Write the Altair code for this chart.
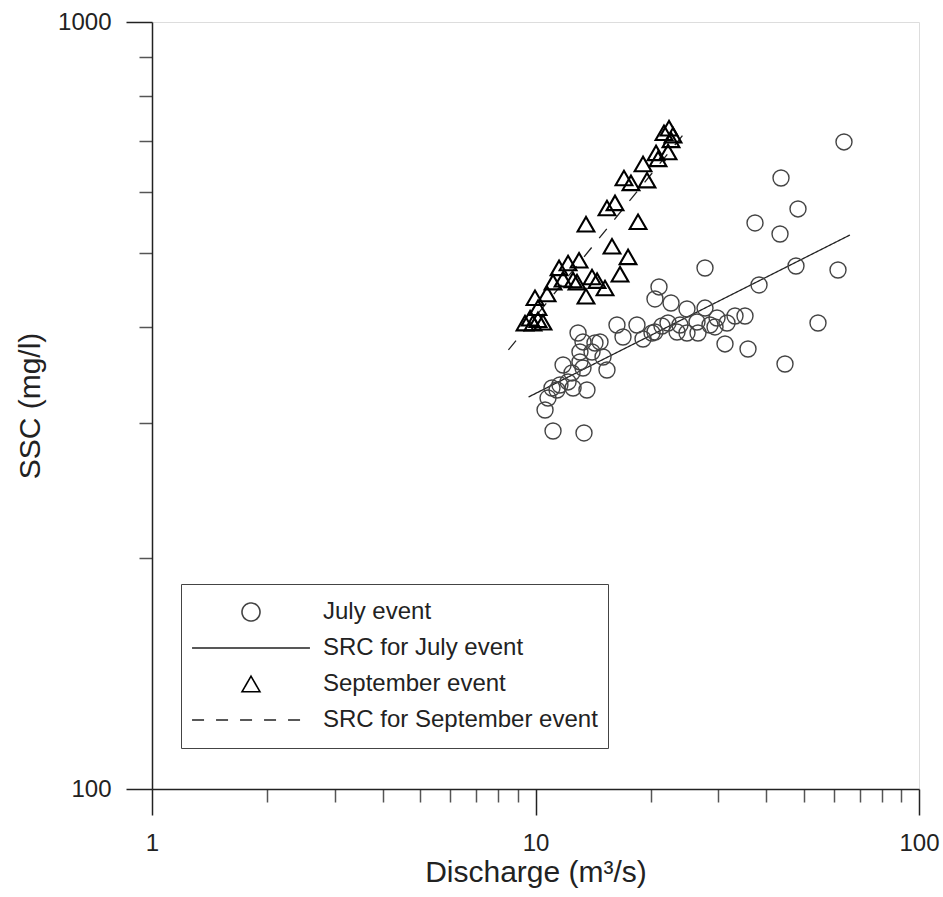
import altair as alt
import pandas as pd

# ---------------- data ----------------
july_q = [11.11, 13.38, 10.59, 10.78, 11.04, 11.38, 11.58, 12.16, 12.53, 13.62,
          11.80, 12.45, 13.30, 13.06, 13.06, 14.04, 15.00, 15.36, 13.30, 12.91,
          14.29, 14.73, 16.31, 16.91, 18.39, 19.07, 20.13, 20.49, 21.37, 22.16,
          23.39, 23.81, 24.83, 26.37, 26.53, 28.51, 29.38, 29.74, 31.58, 33.13,
          35.18, 31.20, 35.82, 44.73, 20.99, 20.49, 22.56, 24.83, 27.67, 27.67,
          38.27, 47.78, 61.49, 37.36, 43.41, 43.67, 48.36, 63.74, 54.53]
july_ssc = [292.9, 291.2, 312.0, 323.4, 333.3, 331.3, 336.3, 339.4, 333.3, 331.3,
            357.1, 348.7, 353.9, 360.4, 371.3, 371.3, 365.8, 351.8, 382.7, 393.1,
            381.5, 382.7, 402.7, 388.4, 402.7, 386.1, 393.1, 394.3, 401.5, 405.1,
            394.3, 402.7, 393.1, 406.3, 393.1, 402.7, 400.3, 411.2, 405.1, 413.7,
            413.7, 380.4, 374.7, 358.2, 451.4, 435.4, 430.2, 422.5, 423.7, 477.8,
            454.1, 480.7, 475.0, 547.0, 529.2, 626.1, 570.5, 697.6, 405.1]

sept_q = [9.39, 9.68, 9.85, 10.15, 10.46, 10.15, 9.97, 10.72, 11.11, 11.52,
          11.80, 12.16, 12.53, 12.83, 12.99, 13.54, 14.04, 14.47, 15.18, 13.54,
          15.83, 16.61, 17.43, 15.36, 16.12, 18.51, 17.01, 17.74, 19.53, 19.07,
          20.62, 20.87, 22.16, 21.63, 22.29, 22.83, 22.56]
sept_ssc = [405, 411, 405, 409, 406, 424, 437, 442, 458, 478,
            462, 485, 461, 458, 489, 439, 465, 460, 450, 545,
            510, 469, 494, 572, 581, 549, 626, 617, 622, 653,
            675, 663, 677, 717, 727, 712, 702]

# sediment rating curves (end points of the fitted lines)
src_july_q = [9.59, 66.05]
src_july_ssc = [324.4, 527.6]
src_sept_q = [8.50, 25.09]
src_sept_ssc = [373.6, 727.5]

series = ["July event", "SRC for July event", "September event", "SRC for September event"]
x_ticks = [1, 2, 3, 4, 5, 6, 7, 8, 9, 10, 20, 30, 40, 50, 60, 70, 80, 90, 100]
y_ticks = [100, 200, 300, 400, 500, 600, 700, 800, 900, 1000]
x_major = [1, 10, 100]
y_major = [100, 1000]

# ---------------- tables ----------------
pts = pd.concat([
    pd.DataFrame({"Q": july_q, "SSC": july_ssc, "series": series[0]}),
    pd.DataFrame({"Q": sept_q, "SSC": sept_ssc, "series": series[2]}),
], ignore_index=True)
lines = pd.concat([
    pd.DataFrame({"Q": src_july_q, "SSC": src_july_ssc, "series": series[1]}),
    pd.DataFrame({"Q": src_sept_q, "SSC": src_sept_ssc, "series": series[3]}),
], ignore_index=True)

FONT = "Liberation Sans"
TXT = "#222222"
LINE_SHAPE = "M-6.55,0L6.55,0"   # long horizontal stroke used as legend symbol


def is_major(vals):
    return "indexof(%s, datum.value) >= 0" % str(list(vals))


x_axis = alt.Axis(
    values=x_ticks, format="d",
    labelExpr=is_major(x_major) + " ? datum.label : ''",
    grid=False, domainColor="#222222", domainWidth=1.5,
    tickSize={"condition": {"test": is_major(x_major), "value": 26}, "value": 13},
    tickColor={"condition": {"test": is_major(x_major), "value": "#222222"}, "value": "#555555"},
    tickWidth=1.5,
    labelFont=FONT, labelFontSize=24, labelColor=TXT, labelPadding=16,
    labelFlush=False, labelOverlap=False,
    title="Discharge (m³/s)", titleFont=FONT, titleFontSize=30, titleFontWeight="normal",
    titleColor=TXT, titleY=92, titleBaseline="alphabetic",
)
y_axis = alt.Axis(
    values=y_ticks, format="d",
    labelExpr=is_major(y_major) + " ? datum.label : ''",
    grid=False, domainColor="#222222", domainWidth=1.5,
    tickSize={"condition": {"test": is_major(y_major), "value": 26}, "value": 13},
    tickColor={"condition": {"test": is_major(y_major), "value": "#222222"}, "value": "#555555"},
    tickWidth=1.5,
    labelFont=FONT, labelFontSize=24, labelColor=TXT, labelPadding=15,
    labelFlush=False, labelOverlap=False,
    title="SSC (mg/l)", titleFont=FONT, titleFontSize=30, titleFontWeight="normal",
    titleColor=TXT, titleX=-113, titleBaseline="alphabetic", titleAngle=270,
)

x_enc = alt.X("Q:Q", scale=alt.Scale(type="log", domain=[1, 100], nice=False), axis=x_axis)
y_enc = alt.Y("SSC:Q", scale=alt.Scale(type="log", domain=[100, 1000], nice=False), axis=y_axis)

legend = alt.Legend(
    title=None, orient="none", legendX=29, legendY=562, direction="vertical",
    padding=10, strokeColor="#444444", fillColor="white",
    labelFont=FONT, labelFontSize=24, labelColor=TXT, labelLimit=500,
    labelOffset=60, labelBaseline="middle",
    clipHeight=36, rowPadding=0, symbolOffset=48,
    symbolSize=324, symbolStrokeWidth=1.6, symbolFillColor="transparent",
    symbolOpacity=1,
)

stroke_scale = alt.Scale(domain=series, range=["#444444", "#222222", "#000000", "#222222"])
shape_scale = alt.Scale(domain=series, range=["circle", LINE_SHAPE, "triangle-up", LINE_SHAPE])
dash_scale = alt.Scale(domain=series, range=[[1, 0], [1, 0], [1, 0], [12, 12]])

is_july = alt.datum.series == "July event"

points = alt.Chart(pts).mark_point(filled=False, opacity=1).encode(
    x=x_enc, y=y_enc,
    shape=alt.Shape("series:N", scale=shape_scale, legend=legend),
    stroke=alt.Stroke("series:N", scale=stroke_scale, legend=legend),
    size=alt.condition(is_july, alt.value(256), alt.value(280)),
    strokeWidth=alt.condition(is_july, alt.value(1.4), alt.value(2.1)),
)

src = alt.Chart(lines).mark_line(strokeWidth=1.3).encode(
    x=x_enc, y=y_enc,
    stroke=alt.Stroke("series:N", scale=stroke_scale, legend=legend),
    strokeDash=alt.StrokeDash("series:N", scale=dash_scale, legend=legend),
)

chart = alt.layer(src, points).properties(
    width=767, height=767,
    autosize=alt.AutoSizeParams(type="none"),
    padding={"left": 152, "top": 22, "right": 24, "bottom": 108},
    background="white",
).configure_view(stroke="transparent", strokeWidth=0).configure(font=FONT)

chart.save("out.html", embed_options={"renderer": "svg", "actions": False})
